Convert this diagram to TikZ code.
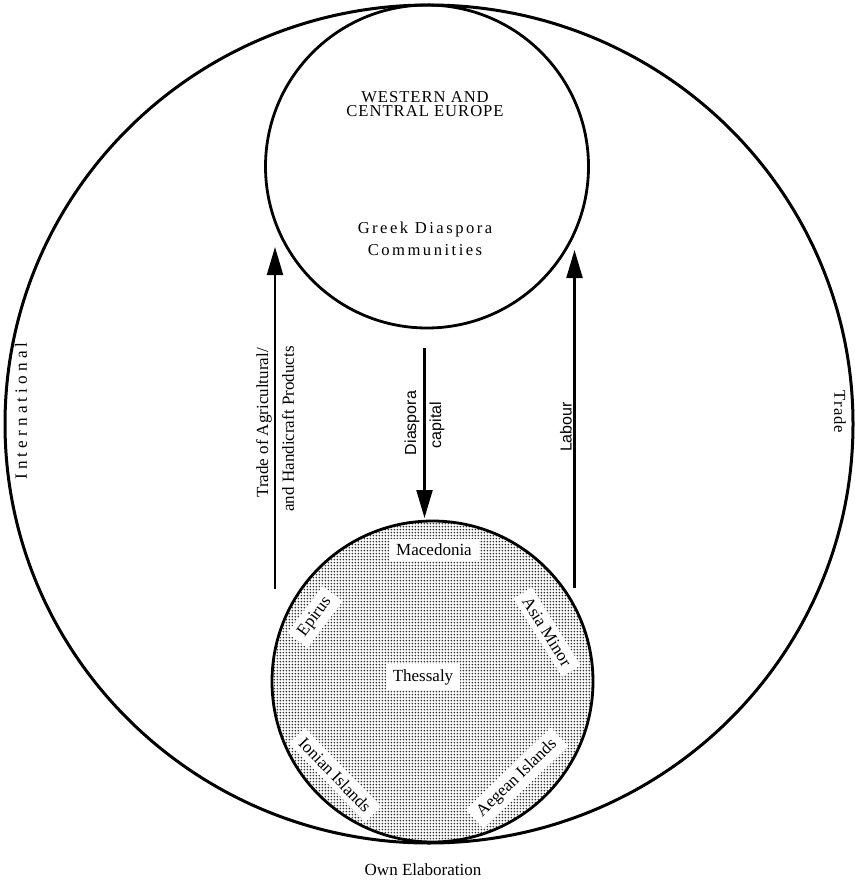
\documentclass[tikz,border=0pt]{standalone}
\usepackage{fontspec}
\setmainfont{Liberation Serif}
\setsansfont{Liberation Sans}
\newfontfamily\capsspaced[LetterSpace=6]{Liberation Serif}
\newfontfamily\textspaced[LetterSpace=15]{Liberation Serif}
\newfontfamily\rimspaced[LetterSpace=24]{Liberation Serif}
\usetikzlibrary{arrows.meta,patterns}

% fine halftone screen for the home-region disc
\pgfdeclarepatternformonly{halftone}{\pgfpointorigin}{\pgfpoint{1.65pt}{1.65pt}}{\pgfpoint{1.65pt}{1.65pt}}{%
  \pgfpathcircle{\pgfpoint{0.825pt}{0.825pt}}{0.55pt}\pgfusepath{fill}}

\begin{document}
\begin{tikzpicture}[x=0.5pt,y=-0.5pt,
  ring/.style={line width=1.5pt},
  disc/.style={circle,draw,line width=1.4pt,inner sep=0pt,minimum size=#1},
  flow/.style={line width=1.1pt,-{Triangle[length=14pt,width=8pt]}},
  serifsm/.style={font=\fontsize{8.5}{10}\selectfont},
  sanssm/.style={font=\sffamily\fontsize{8}{9.6}\selectfont},
  region/.style={serifsm,fill=white,inner xsep=3.5pt,inner ysep=2.5pt},
  capslabel/.style={font=\capsspaced\fontsize{8.3}{7.4}\selectfont,align=center},
  textlabel/.style={font=\textspaced\fontsize{8.3}{11}\selectfont,align=center},
  rimlabel/.style={font=\rimspaced\fontsize{8.6}{9.6}\selectfont},
  traillabel/.style={font=\capsspaced\fontsize{8.3}{9.6}\selectfont},
]
\useasboundingbox (0,0) rectangle (855,882);

% outer ring: international trade
\draw[ring] (429,424) ellipse [x radius=424, y radius=419];

% diaspora communities abroad
\node[disc=161.5pt] (europe) at (427,166.5) {};
\node[capslabel] (west) at (425,104) {WESTERN AND\\CENTRAL EUROPE};
\node[textlabel] (greek) at (425,239) {Greek Diaspora\\Communities};

% home regions
\node[disc=160.5pt,pattern=halftone,pattern color=black!80] (home) at (432.5,681.5) {};
\node[region] (macedonia) at (434,550) {Macedonia};
\node[region] (thessaly) at (423,677) {Thessaly};
\node[region,rotate=53] (epirus) at (315,617) {Epirus};
\node[region,rotate=-58] (asia) at (547,632) {Asia Minor};
\node[region,rotate=-46] (ionian) at (335,775) {Ionian Islands};
\node[region,rotate=44] (aegean) at (517,778) {Aegean Islands};

% flows between home and diaspora
\coordinate (tradeTail) at (275,589);
\coordinate (tradeTip) at (275,247);
\coordinate (capTail) at (424.5,348);
\coordinate (capTip) at (424.5,518);
\coordinate (labTail) at (574.5,588);
\coordinate (labTip) at (574.5,250);
\draw[flow] (tradeTail) -- (tradeTip);
\draw[flow] (capTail) -- (capTip);
\draw[flow] (labTail) -- (labTip);

\node[serifsm,rotate=90] (tradeA) at (264,423) {Trade of Agricultural/};
\node[serifsm,rotate=90] (tradeB) at (288,429) {and Handicraft Products};
\node[sanssm,rotate=90] (diaspora) at (412,423) {Diaspora};
\node[sanssm,rotate=90] (capital) at (437,425) {capital};
\node[sanssm,rotate=90] (labour) at (566,427) {Labour};

% ring captions
\node[rimlabel,rotate=90] (intl) at (21,411) {International};
\node[traillabel,rotate=-90] (trade) at (840,412) {Trade};

\node[serifsm] (source) at (423,870) {Own Elaboration};
\end{tikzpicture}
\end{document}
